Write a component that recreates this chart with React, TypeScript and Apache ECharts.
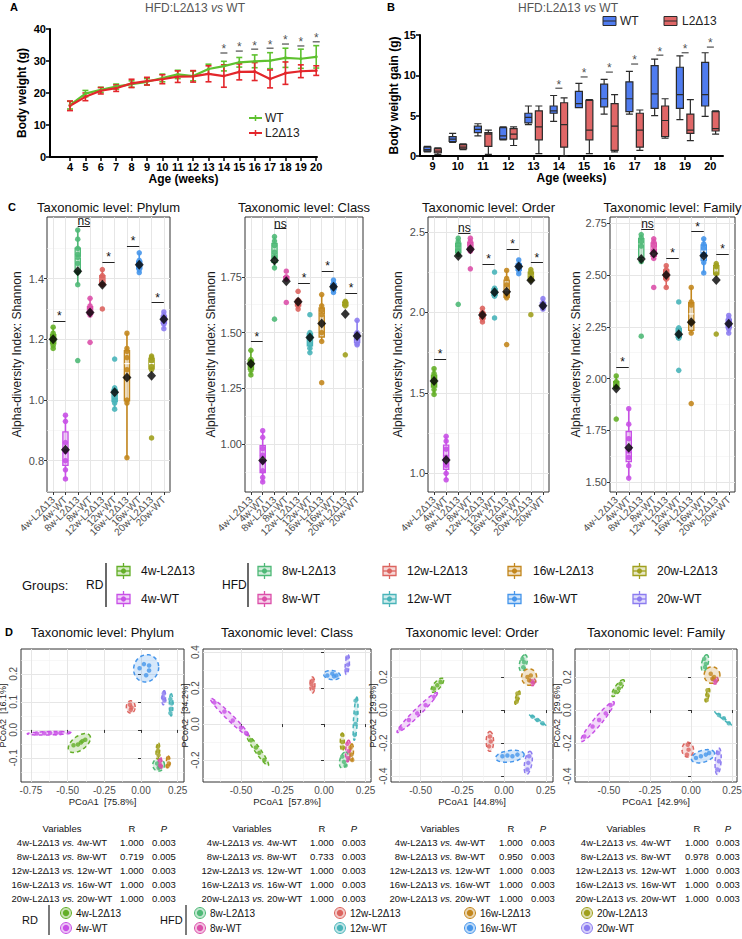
import React, { useEffect, useRef } from "react";
import * as echarts from "echarts";

// ---------------- Panel A: body weight ----------------
const ageWeeks = [4, 5, 6, 7, 8, 9, 10, 11, 12, 13, 14, 15, 16, 17, 18, 19, 20];
const wtBodyWeight = [16.2, 19.8, 21.0, 22.0, 22.8, 23.5, 24.7, 25.8, 25.3, 27.5, 28.4, 29.6, 29.9, 30.1, 31.0, 30.7, 31.3];
const wtBodyWeightErr = [1.2, 1.0, 0.8, 0.8, 1.0, 1.0, 1.2, 1.3, 1.5, 1.5, 1.5, 1.5, 2.0, 2.5, 3.0, 3.0, 3.5];
const l2BodyWeight = [16.0, 18.8, 20.7, 21.5, 23.0, 23.7, 24.3, 25.1, 25.2, 26.0, 25.3, 26.6, 26.7, 24.4, 26.2, 26.8, 27.0];
const l2BodyWeightErr = [1.5, 1.2, 1.0, 1.0, 1.3, 1.2, 1.4, 1.8, 1.8, 2.5, 3.5, 2.5, 2.8, 2.8, 3.5, 2.0, 1.5];
const sigWeeksA = [14, 15, 16, 17, 18, 19, 20];
const sigLevelA = [32.5, 33.1, 33.7, 34.0, 35.3, 34.7, 36.0];

// ---------------- Panel B: body weight gain ----------------
const gainWeeks = ["9", "10", "11", "12", "13", "14", "15", "16", "17", "18", "19", "20"];
const wtGain = [
  [0.5, 0.6, 0.8, 1.1, 1.2], [1.7, 1.8, 2.1, 2.4, 2.8], [2.5, 2.9, 3.3, 3.7, 4.0], [2.0, 2.1, 2.5, 3.5, 3.6],
  [3.9, 4.1, 4.8, 5.3, 6.2], [4.3, 5.3, 5.6, 6.2, 7.5], [6.0, 6.0, 6.5, 8.0, 9.0], [5.2, 6.1, 7.1, 8.9, 9.5],
  [5.2, 5.5, 7.1, 9.2, 10.5], [5.0, 5.9, 7.7, 11.2, 12.0], [4.5, 5.9, 7.6, 11.0, 12.4], [4.9, 6.2, 7.6, 11.6, 12.8],
];
const l2Gain = [
  [0.2, 0.4, 0.6, 0.9, 1.0], [0.8, 0.9, 1.1, 1.4, 1.5], [0.2, 1.2, 2.7, 2.9, 3.2], [1.3, 2.1, 2.7, 3.4, 3.6],
  [0.3, 2.0, 3.6, 5.6, 6.2], [0.0, 1.1, 3.9, 6.6, 7.2], [0.3, 2.0, 3.2, 6.9, 7.0], [0.5, 0.7, 3.7, 6.5, 7.6],
  [0.7, 1.1, 3.2, 5.3, 5.7], [2.2, 2.4, 4.4, 6.2, 7.1], [1.9, 2.8, 3.2, 5.2, 7.0], [2.7, 3.1, 3.4, 5.5, 5.6],
];
const sigWeeksB = ["14", "15", "16", "17", "18", "19", "20"];
const sigLevelB = [8.4, 9.8, 10.4, 11.4, 12.5, 12.8, 13.5];

// ---------------- Panel C: alpha diversity ----------------
const groupNames = ["4w-L2Δ13", "4w-WT", "8w-L2Δ13", "8w-WT", "12w-L2Δ13", "12w-WT", "16w-L2Δ13", "16w-WT", "20w-L2Δ13", "20w-WT"];
const groupColors = ["#64af28", "#c850e6", "#4fb977", "#dc50aa", "#dc645f", "#48b4b9", "#c3871e", "#4696eb", "#a0a01e", "#8c7cf0"];
const sigPairs = [[1, 2], [3, 4], [5, 6], [7, 8], [9, 10]];
const sigLabels = ["*", "ns", "*", "*", "*"];

const phylumShannon = [
  [1.24, 1.22, 1.21, 1.2, 1.19, 1.18, 1.17],
  [0.95, 0.93, 0.86, 0.83, 0.8, 0.77, 0.74],
  [1.56, 1.53, 1.5, 1.48, 1.47, 1.45, 1.42, 1.38, 1.13],
  [1.335, 1.31, 1.3, 1.29, 1.28, 1.19],
  [1.43, 1.41, 1.4, 1.38, 1.3],
  [1.135, 1.04, 1.03, 1.01, 1.0, 0.99, 0.97],
  [1.22, 1.17, 1.16, 1.14, 1.1, 1.0, 0.99, 0.81],
  [1.485, 1.46, 1.45, 1.44, 1.43, 1.42],
  [1.145, 1.14, 1.13, 1.11, 1.1, 0.875],
  [1.29, 1.28, 1.27, 1.26, 1.25, 1.235],
];
const phylumMean = [1.2, 0.836, 1.424, 1.288, 1.38, 1.026, 1.074, 1.446, 1.08, 1.266];
const phylumSigLevel = [1.26, 1.573, 1.455, 1.508, 1.321];

const classShannon = [
  [1.42, 1.38, 1.37, 1.35, 1.33, 1.31],
  [1.06, 1.03, 0.98, 0.95, 0.92, 0.88, 0.85, 0.83],
  [1.93, 1.91, 1.89, 1.86, 1.84, 1.79, 1.56],
  [1.775, 1.75, 1.745, 1.74, 1.635],
  [1.685, 1.645, 1.635, 1.62, 1.605],
  [1.58, 1.5, 1.49, 1.47, 1.45, 1.43, 1.41],
  [1.67, 1.62, 1.6, 1.58, 1.5, 1.46, 1.275],
  [1.735, 1.72, 1.71, 1.7, 1.69, 1.68],
  [1.64, 1.635, 1.63, 1.62, 1.4],
  [1.555, 1.5, 1.49, 1.47, 1.45, 1.445],
];
const classMean = [1.36, 0.926, 1.823, 1.73, 1.638, 1.478, 1.54, 1.705, 1.583, 1.484];
const classSigLevel = [1.459, 1.966, 1.723, 1.777, 1.678];

const orderShannon = [
  [1.65, 1.62, 1.6, 1.57, 1.55, 1.52, 1.49],
  [1.23, 1.2, 1.15, 1.1, 1.05, 1.0, 0.96],
  [2.46, 2.44, 2.42, 2.4, 2.38, 2.36, 2.05],
  [2.46, 2.44, 2.42, 2.4, 2.38, 2.27],
  [2.025, 2.0, 1.98, 1.96, 1.94],
  [2.25, 2.15, 2.13, 2.12, 2.1, 1.965],
  [2.26, 2.21, 2.17, 2.1, 2.09, 1.8],
  [2.325, 2.3, 2.28, 2.26, 2.24],
  [2.265, 2.25, 2.23, 2.2, 1.985],
  [2.085, 2.06, 2.04, 2.03, 2.02],
];
const orderMean = [1.573, 1.083, 2.35, 2.391, 1.983, 2.124, 2.128, 2.284, 2.199, 2.041];
const orderSigLevel = [1.708, 2.493, 2.3, 2.393, 2.308];

const familyShannon = [
  [2.013, 1.985, 1.975, 1.96, 1.805],
  [1.855, 1.78, 1.71, 1.65, 1.62, 1.58, 1.52],
  [2.695, 2.68, 2.66, 2.64, 2.565, 2.205],
  [2.675, 2.66, 2.64, 2.62, 2.58, 2.44],
  [2.545, 2.525, 2.5, 2.48, 2.44],
  [2.37, 2.245, 2.23, 2.21, 2.195, 2.04],
  [2.44, 2.37, 2.355, 2.27, 2.22, 1.88],
  [2.675, 2.65, 2.63, 2.6, 2.56, 2.51],
  [2.555, 2.545, 2.54, 2.505, 2.215],
  [2.305, 2.29, 2.275, 2.26, 2.24, 2.22],
];
const familyMean = [1.953, 1.667, 2.577, 2.604, 2.5, 2.214, 2.272, 2.593, 2.476, 2.265];
const familySigLevel = [2.055, 2.72, 2.58, 2.71, 2.6];

// ---------------- Panel D: PCoA (ellipse: centre, axis u, axis v) ----------------
const phylumEllipses = [
  [-0.42, -0.047, 0.075, 0.022, -0.01, 0.026], [-0.625, -0.012, 0.15, 0.002, 0, 0.006],
  [0.12, -0.125, 0.04, 0, 0, 0.022], [0.13, -0.12, 0.012, 0.008, -0.005, 0.022],
  [-0.07, 0.082, 0.03, 0, 0, 0.022], [0.205, 0.09, 0, 0.04, 0.012, 0],
  [0.185, -0.115, 0, 0.022, 0.012, 0], [0.035, 0.22, 0.085, 0.008, -0.008, 0.048],
  [0.115, -0.075, 0.004, 0.028, 0.012, 0], [0.155, 0.115, 0.003, 0.025, 0.012, 0],
];
const phylumPcoaPoints = [
  [[-0.46, -0.055], [-0.43, -0.052], [-0.41, -0.045], [-0.4, -0.04], [-0.38, -0.035]],
  [[-0.71, -0.013], [-0.66, -0.012], [-0.62, -0.011], [-0.58, -0.012], [-0.55, -0.011]],
  [[0.11, -0.12], [0.13, -0.13], [0.12, -0.135]],
  [[0.13, -0.11], [0.13, -0.125], [0.135, -0.13]],
  [[-0.075, 0.09], [-0.065, 0.08], [-0.07, 0.072]],
  [[0.2, 0.11], [0.21, 0.095], [0.205, 0.075], [0.2, 0.06]],
  [[0.185, -0.1], [0.19, -0.12], [0.18, -0.13]],
  [[0.02, 0.235], [0.055, 0.23], [0.055, 0.212], [0.035, 0.195], [-0.01, 0.22]],
  [[0.115, -0.06], [0.115, -0.075], [0.12, -0.09]],
  [[0.155, 0.13], [0.15, 0.115], [0.16, 0.105]],
];
const classEllipses = [
  [-0.4, -0.145, 0.065, -0.085, 0.013, 0.01], [-0.57, 0.04, 0.115, -0.103, 0.012, 0.014],
  [0.12, -0.2, 0.01, 0.045, 0.025, 0], [0.145, -0.15, 0.003, 0.06, 0.015, 0],
  [-0.07, 0.217, 0, 0.045, 0.015, 0], [0.19, 0.03, 0.008, 0.12, 0.012, 0],
  [0.165, -0.16, 0.003, 0.05, 0.012, 0], [0.048, 0.272, 0.05, -0.005, 0.002, 0.025],
  [0.11, -0.1, 0, 0.05, 0.012, 0], [0.14, 0.33, 0.005, 0.055, 0.012, 0],
];
const classPcoaPoints = [
  [[-0.44, -0.09], [-0.41, -0.13], [-0.39, -0.16], [-0.36, -0.2]],
  [[-0.66, 0.12], [-0.6, 0.07], [-0.55, 0.02], [-0.5, -0.02], [-0.47, -0.05]],
  [[0.11, -0.18], [0.12, -0.21], [0.13, -0.23]],
  [[0.14, -0.11], [0.15, -0.15], [0.145, -0.19]],
  [[-0.07, 0.24], [-0.075, 0.22], [-0.065, 0.2]],
  [[0.19, 0.13], [0.195, 0.06], [0.19, 0.0], [0.185, -0.06]],
  [[0.16, -0.13], [0.165, -0.17], [0.17, -0.2]],
  [[0.02, 0.27], [0.05, 0.28], [0.06, 0.265], [0.075, 0.27]],
  [[0.11, -0.06], [0.11, -0.1], [0.115, -0.13]],
  [[0.14, 0.37], [0.145, 0.33], [0.135, 0.3]],
];
const orderEllipses = [
  [-0.4, 0.15, 0.035, 0.04, -0.015, 0.015], [-0.52, -0.015, 0.12, 0.12, 0.015, -0.015],
  [0.115, 0.285, 0.01, 0.05, 0.022, 0], [0.17, 0.17, 0.02, 0, 0, 0.022],
  [-0.085, -0.19, 0, 0.06, 0.022, 0], [0.2, -0.06, 0.05, -0.035, 0.003, 0.005],
  [0.15, 0.2, 0.045, 0, 0, 0.05], [0.035, -0.28, 0.085, 0.01, 0, 0.035],
  [0.08, 0.075, 0.012, 0.04, 0.01, -0.003], [0.145, -0.32, 0.01, 0.07, 0.022, 0],
];
const orderPcoaPoints = [
  [[-0.42, 0.13], [-0.4, 0.15], [-0.38, 0.17]],
  [[-0.62, -0.11], [-0.57, -0.06], [-0.52, -0.02], [-0.47, 0.03], [-0.42, 0.08]],
  [[0.11, 0.31], [0.12, 0.29], [0.115, 0.26]],
  [[0.165, 0.175], [0.175, 0.165]],
  [[-0.085, -0.16], [-0.08, -0.19], [-0.09, -0.22]],
  [[0.17, -0.04], [0.2, -0.06], [0.23, -0.08]],
  [[0.14, 0.2], [0.16, 0.21], [0.15, 0.18]],
  [[-0.01, -0.28], [0.02, -0.275], [0.05, -0.28], [0.08, -0.27]],
  [[0.08, 0.1], [0.08, 0.07], [0.075, 0.05]],
  [[0.15, -0.28], [0.145, -0.32], [0.14, -0.36]],
];
const familyEllipses = [
  [-0.445, 0.133, 0.035, 0.05, -0.016, 0.01], [-0.57, -0.07, 0.1, 0.12, 0.02, -0.015],
  [0.085, 0.285, 0.01, 0.05, 0.02, 0], [0.146, 0.18, 0.02, 0, 0, 0.022],
  [-0.02, -0.24, 0.035, 0, 0, 0.045], [0.195, -0.05, 0.05, -0.04, 0.003, 0.004],
  [0.128, 0.212, 0.048, 0, 0, 0.05], [0.073, -0.28, 0.07, 0.02, -0.008, 0.035],
  [0.1, 0.09, 0.01, 0.04, 0.01, 0], [0.165, -0.31, 0.005, 0.08, 0.018, 0],
];
const familyPcoaPoints = [
  [[-0.46, 0.11], [-0.44, 0.13], [-0.43, 0.16]],
  [[-0.65, -0.16], [-0.6, -0.1], [-0.56, -0.06], [-0.52, -0.02], [-0.49, 0.03]],
  [[0.08, 0.31], [0.09, 0.28], [0.085, 0.26]],
  [[0.14, 0.185], [0.15, 0.175]],
  [[-0.02, -0.21], [-0.015, -0.24], [-0.025, -0.27]],
  [[0.17, -0.03], [0.2, -0.05], [0.23, -0.08]],
  [[0.12, 0.22], [0.14, 0.2], [0.13, 0.19]],
  [[0.03, -0.29], [0.06, -0.28], [0.09, -0.27], [0.11, -0.26]],
  [[0.1, 0.12], [0.1, 0.09], [0.095, 0.06]],
  [[0.165, -0.26], [0.17, -0.31], [0.16, -0.36]],
];

// ---------------- ANOSIM tables ----------------
const anosimComparisons = [["4w-L2Δ13", "4w-WT"], ["8w-L2Δ13", "8w-WT"], ["12w-L2Δ13", "12w-WT"], ["16w-L2Δ13", "16w-WT"], ["20w-L2Δ13", "20w-WT"]];
const phylumAnosimR = [1.0, 0.719, 1.0, 1.0, 1.0];
const phylumAnosimP = [0.003, 0.005, 0.003, 0.003, 0.003];
const classAnosimR = [1.0, 0.733, 1.0, 1.0, 1.0];
const classAnosimP = [0.003, 0.003, 0.003, 0.003, 0.003];
const orderAnosimR = [1.0, 0.95, 1.0, 1.0, 1.0];
const orderAnosimP = [0.003, 0.003, 0.003, 0.003, 0.003];
const familyAnosimR = [1.0, 0.978, 1.0, 1.0, 1.0];
const familyAnosimP = [0.003, 0.003, 0.003, 0.003, 0.003];

// ---------------- helpers ----------------
const FONT = "'Liberation Sans', Arial, Helvetica, sans-serif";
const NARROW = "'Liberation Sans Narrow', 'Arial Narrow', 'Liberation Sans', Arial, sans-serif";

function rgba(hex: string, a: number) {
  const n = parseInt(hex.slice(1), 16);
  return `rgba(${(n >> 16) & 255},${(n >> 8) & 255},${n & 255},${a})`;
}

function boxStats(vals: number[]) {
  const s = [...vals].sort((a, b) => a - b);
  const q = (p: number) => {
    const h = (s.length - 1) * p;
    const lo = Math.floor(h);
    const hi = Math.min(lo + 1, s.length - 1);
    return s[lo] + (h - lo) * (s[hi] - s[lo]);
  };
  const q1 = q(0.25), med = q(0.5), q3 = q(0.75), iqr = q3 - q1;
  const lo = s.find((v) => v >= q1 - 1.5 * iqr) as number;
  const hi = [...s].reverse().find((v) => v <= q3 + 1.5 * iqr) as number;
  return [lo, q1, med, q3, hi];
}

function T(x: number, y: number, text: string, o: any = {}) {
  const align = o.align || "left";
  return {
    type: "text",
    x,
    y,
    silent: true,
    z: 100,
    style: {
      text,
      fill: o.color || "#1a1a1a",
      fontSize: o.size || 12,
      fontFamily: o.family || FONT,
      fontWeight: o.weight || "normal",
      fontStyle: o.fstyle || "normal",
      align,
      textAlign: align,
      verticalAlign: "middle",
      textVerticalAlign: "middle",
      rich: o.rich,
    },
  };
}
function L(x1: number, y1: number, x2: number, y2: number, color: string, w = 1) {
  return { type: "line", silent: true, z: 100, shape: { x1, y1, x2, y2 }, style: { stroke: color, lineWidth: w } };
}

function boxKey(x: number, y: number, c: string) {
  return [
    L(x + 6.5, y - 8, x + 6.5, y - 4.5, c, 1.3),
    L(x + 6.5, y + 4.5, x + 6.5, y + 8, c, 1.3),
    { type: "rect", silent: true, z: 100, shape: { x, y: y - 4.5, width: 13, height: 9 }, style: { fill: rgba(c, 0.25), stroke: c, lineWidth: 1.3 } },
    L(x, y, x + 13, y, c, 1.3),
    { type: "circle", silent: true, z: 101, shape: { cx: x + 6.5, cy: y, r: 2.6 }, style: { fill: c } },
  ];
}
function ellKey(x: number, y: number, c: string) {
  return [
    { type: "circle", silent: true, z: 100, shape: { cx: x, cy: y, r: 5.5 }, style: { fill: rgba(c, 0.35), stroke: c, lineWidth: 1 } },
    { type: "circle", silent: true, z: 101, shape: { cx: x, cy: y, r: 3.2 }, style: { fill: c } },
  ];
}

function buildOption() {
  const grid: any[] = [];
  const xAxis: any[] = [];
  const yAxis: any[] = [];
  const series: any[] = [];
  const els: any[] = [];
  const addX = (o: any) => (xAxis.push(o), xAxis.length - 1);
  const addY = (o: any) => (yAxis.push(o), yAxis.length - 1);

  // ===== Panel A =====
  const prismLine = { show: true, onZero: false, lineStyle: { color: "#000", width: 2 } };
  const prismTick = { show: true, length: 4, lineStyle: { color: "#000", width: 1.5 } };
  const prismLabel = { color: "#000", fontWeight: "bold", fontSize: 11, fontFamily: FONT, margin: 4, hideOverlap: false };
  const prismName = { fontWeight: "bold", fontSize: 12, color: "#000", fontFamily: FONT };
  grid.push({ left: 50, top: 29, width: 267, height: 128, show: false, outerBoundsMode: "none" });
  const axA = addX({
    gridIndex: 0, type: "value", min: 2.7, max: 20.05,
    axisLine: prismLine, axisTick: { ...prismTick, customValues: ageWeeks },
    axisLabel: { ...prismLabel, customValues: ageWeeks }, splitLine: { show: false },
    name: "Age (weeks)", nameLocation: "middle", nameGap: 16, nameTextStyle: prismName,
  });
  const ayA = addY({
    gridIndex: 0, type: "value", min: 0, max: 40, interval: 10,
    axisLine: prismLine, axisTick: prismTick, axisLabel: prismLabel, splitLine: { show: false },
    name: "Body weight (g)", nameLocation: "middle", nameGap: 22, nameTextStyle: prismName,
  });
  const wtGreen = "#5ec12f", l2Red = "#e3262b";
  const errSeries = (vals: number[], errs: number[], color: string) => ({
    type: "custom", xAxisIndex: axA, yAxisIndex: ayA, silent: true, z: 3,
    data: ageWeeks.map((w, i) => [w, vals[i], errs[i]]),
    encode: { x: 0, y: 1 },
    renderItem: (params: any, api: any) => {
      const x = api.value(0), m = api.value(1), s = api.value(2);
      const t = api.coord([x, m + s]), b = api.coord([x, m - s]);
      const st = { stroke: color, lineWidth: 1.6 };
      return {
        type: "group",
        children: [
          { type: "line", shape: { x1: t[0], y1: t[1], x2: b[0], y2: b[1] }, style: st },
          { type: "line", shape: { x1: t[0] - 3, y1: t[1], x2: t[0] + 3, y2: t[1] }, style: st },
          { type: "line", shape: { x1: b[0] - 3, y1: b[1], x2: b[0] + 3, y2: b[1] }, style: st },
        ],
      };
    },
  });
  series.push(errSeries(wtBodyWeight, wtBodyWeightErr, wtGreen));
  series.push({
    type: "line", xAxisIndex: axA, yAxisIndex: ayA, data: ageWeeks.map((w, i) => [w, wtBodyWeight[i]]),
    symbol: "circle", symbolSize: 3, itemStyle: { color: wtGreen }, lineStyle: { color: wtGreen, width: 2.2 }, z: 4,
  });
  series.push(errSeries(l2BodyWeight, l2BodyWeightErr, l2Red));
  series.push({
    type: "line", xAxisIndex: axA, yAxisIndex: ayA, data: ageWeeks.map((w, i) => [w, l2BodyWeight[i]]),
    symbol: "circle", symbolSize: 3, itemStyle: { color: l2Red }, lineStyle: { color: l2Red, width: 2.2 }, z: 4,
  });
  series.push({
    type: "scatter", xAxisIndex: axA, yAxisIndex: ayA, silent: true, z: 6,
    data: sigWeeksA.map((w, i) => [w, sigLevelA[i]]), symbol: "rect", symbolSize: [7, 1.3],
    itemStyle: { color: "#333" },
    label: { show: true, formatter: "*", position: "top", distance: -3, fontSize: 12, color: "#222", fontFamily: FONT },
  });
  els.push(T(10, 7, "A", { weight: "bold", size: 11, color: "#000" }));
  els.push(T(195, 8, "HFD:L2Δ13 {i|vs} WT", { align: "center", color: "#555", size: 12, rich: { i: { fontStyle: "italic", fontSize: 12, fontFamily: FONT, fill: "#555", color: "#555" } } }));
  els.push(L(249, 118, 262, 118, wtGreen, 2), L(255.5, 115, 255.5, 121, wtGreen, 1.5));
  els.push(T(265, 118, "WT", { size: 12, color: "#222" }));
  els.push(L(249, 133, 262, 133, l2Red, 2), L(255.5, 130, 255.5, 136, l2Red, 1.5));
  els.push(T(265, 133, "L2Δ13", { size: 12, color: "#222" }));

  // ===== Panel B =====
  grid.push({ left: 420, top: 35, width: 303, height: 121, show: false, outerBoundsMode: "none" });
  const axB = addX({
    gridIndex: 1, type: "category", data: gainWeeks, axisLine: prismLine,
    axisTick: { ...prismTick, alignWithLabel: true }, axisLabel: { ...prismLabel, interval: 0 }, splitLine: { show: false },
    name: "Age (weeks)", nameLocation: "middle", nameGap: 16, nameTextStyle: prismName,
  });
  const ayB = addY({
    gridIndex: 1, type: "value", min: 0, max: 15, interval: 5,
    axisLine: prismLine, axisTick: prismTick, axisLabel: prismLabel, splitLine: { show: false },
    name: "Body weight gain (g)", nameLocation: "middle", nameGap: 19, nameTextStyle: prismName,
  });
  const wtBlue = "#4f7cf0", l2Pink = "#e06767";
  series.push({
    type: "boxplot", name: "WT", xAxisIndex: axB, yAxisIndex: ayB, data: wtGain, boxWidth: [7, 7],
    itemStyle: { color: wtBlue, borderColor: "#2b2b2b", borderWidth: 1.2 },
  });
  series.push({
    type: "boxplot", name: "L2Δ13", xAxisIndex: axB, yAxisIndex: ayB, data: l2Gain, boxWidth: [7, 7],
    itemStyle: { color: l2Pink, borderColor: "#2b2b2b", borderWidth: 1.2 },
  });
  series.push({
    type: "scatter", xAxisIndex: axB, yAxisIndex: ayB, silent: true, z: 6,
    data: sigWeeksB.map((w, i) => [w, sigLevelB[i]]), symbol: "rect", symbolSize: [7, 1.3],
    itemStyle: { color: "#333" },
    label: { show: true, formatter: "*", position: "top", distance: -3, fontSize: 12, color: "#222", fontFamily: FONT },
  });
  els.push(T(387, 7, "B", { weight: "bold", size: 11, color: "#000" }));
  els.push(T(568, 8, "HFD:L2Δ13 {i|vs} WT", { align: "center", color: "#555", size: 12, rich: { i: { fontStyle: "italic", fontSize: 12, fontFamily: FONT, fill: "#555", color: "#555" } } }));
  els.push({ type: "rect", silent: true, z: 100, shape: { x: 603, y: 16.5, width: 13, height: 9 }, style: { fill: wtBlue, stroke: "#2b2b2b", lineWidth: 1 } });
  els.push(L(603, 21, 616, 21, "#2b2b2b", 1));
  els.push(T(620, 21, "WT", { size: 12, color: "#222" }));
  els.push({ type: "rect", silent: true, z: 100, shape: { x: 664, y: 16.5, width: 13, height: 9 }, style: { fill: l2Pink, stroke: "#2b2b2b", lineWidth: 1 } });
  els.push(L(664, 21, 677, 21, "#2b2b2b", 1));
  els.push(T(682, 21, "L2Δ13", { size: 12, color: "#222" }));

  // ===== Panel C =====
  const groupPos = groupNames.map((_, i) => i + 1);
  const cPanels = [
    { title: "Phylum", left: 47, width: 123, min: 0.697, max: 1.603, major: [0.8, 1.0, 1.2, 1.4], minor: [0.7, 0.9, 1.1, 1.3, 1.5], dec: 1, vals: phylumShannon, means: phylumMean, sig: phylumSigLevel },
    { title: "Class", left: 245, width: 118, min: 0.785, max: 2.018, major: [1.0, 1.25, 1.5, 1.75], minor: [0.875, 1.125, 1.375, 1.625, 1.875], dec: 2, vals: classShannon, means: classMean, sig: classSigLevel },
    { title: "Order", left: 428, width: 121, min: 0.884, max: 2.592, major: [1.0, 1.5, 2.0, 2.5], minor: [1.25, 1.75, 2.25], dec: 1, vals: orderShannon, means: orderMean, sig: orderSigLevel },
    { title: "Family", left: 610, width: 125, min: 1.453, max: 2.78, major: [1.5, 1.75, 2.0, 2.25, 2.5, 2.75], minor: [1.625, 1.875, 2.125, 2.375, 2.625], dec: 2, vals: familyShannon, means: familyMean, sig: familySigLevel },
  ];
  const gridLine = { show: true, lineStyle: { color: "#e6e6e6", width: 1 } };
  const minorLine = { show: true, lineStyle: { color: "#f1f1f1", width: 0.6 } };
  cPanels.forEach((c) => {
    const gi = grid.length;
    grid.push({ left: c.left, top: 217, width: c.width, height: 275, show: true, borderColor: "#333", borderWidth: 1, backgroundColor: "#fff", outerBoundsMode: "none" });
    const xi = addX({
      gridIndex: gi, type: "value", min: 0.5, max: 10.5,
      axisLine: { show: false }, axisTick: { show: true, customValues: groupPos, length: 3, lineStyle: { color: "#333" } },
      axisLabel: { show: false, customValues: groupPos },
      splitLine: gridLine,
    });
    addX({
      gridIndex: gi, type: "category", data: groupNames, boundaryGap: true, position: "bottom",
      axisLine: { show: false }, axisTick: { show: false }, splitLine: { show: false },
      axisLabel: { interval: 0, rotate: 45, fontSize: 10, color: "#4d4d4d", margin: 6, hideOverlap: false },
    });
    const yi = addY({
      gridIndex: gi, type: "value", min: c.min, max: c.max,
      axisLine: { show: false }, axisTick: { show: true, customValues: c.major, length: 3, lineStyle: { color: "#333" } },
      axisLabel: { customValues: c.major, formatter: (v: number) => v.toFixed(c.dec), fontSize: 11, color: "#4d4d4d", margin: 3, hideOverlap: false },
      splitLine: gridLine,
      name: "Alpha-diversity Index: Shannon", nameLocation: "middle", nameGap: 24, nameTextStyle: { fontSize: 12, color: "#1a1a1a" },
    });
    addY({
      gridIndex: gi, type: "value", min: c.min, max: c.max, position: "left",
      axisLine: { show: false }, axisTick: { show: false, customValues: c.minor }, axisLabel: { show: false, customValues: c.minor },
      splitLine: minorLine,
    });
    series.push({
      type: "custom", xAxisIndex: xi, yAxisIndex: yi, silent: true, z: 2, clip: true,
      data: c.vals.map((v, g) => [g + 1, ...boxStats(v), g]),
      encode: { x: 0, y: [1, 2, 3, 4, 5] },
      renderItem: (params: any, api: any) => {
        const x = api.value(0);
        const col = groupColors[api.value(6)];
        const pLo = api.coord([x, api.value(1)]), pQ1 = api.coord([x, api.value(2)]), pMed = api.coord([x, api.value(3)]);
        const pQ3 = api.coord([x, api.value(4)]), pHi = api.coord([x, api.value(5)]);
        const hw = 2.6;
        const st = { stroke: col, lineWidth: 1.6 };
        return {
          type: "group",
          children: [
            { type: "line", shape: { x1: pLo[0], y1: pLo[1], x2: pQ1[0], y2: pQ1[1] }, style: st },
            { type: "line", shape: { x1: pQ3[0], y1: pQ3[1], x2: pHi[0], y2: pHi[1] }, style: st },
            { type: "rect", shape: { x: pQ3[0] - hw, y: pQ3[1], width: 2 * hw, height: Math.max(0.5, pQ1[1] - pQ3[1]) }, style: { fill: rgba(col, 0.3), stroke: col, lineWidth: 1.3 } },
            { type: "line", shape: { x1: pMed[0] - hw, y1: pMed[1], x2: pMed[0] + hw, y2: pMed[1] }, style: { stroke: "#fff", lineWidth: 1.2 } },
          ],
        };
      },
    });
    const pts: any[] = [];
    c.vals.forEach((vs, g) => vs.forEach((v) => pts.push({ value: [g + 1, v], itemStyle: { color: groupColors[g] } })));
    series.push({ type: "scatter", xAxisIndex: xi, yAxisIndex: yi, data: pts, symbolSize: 5.5, itemStyle: { opacity: 0.9 }, z: 3, silent: true });
    series.push({
      type: "scatter", xAxisIndex: xi, yAxisIndex: yi, silent: true, z: 4,
      data: c.means.map((m, g) => [g + 1, m]), symbol: "diamond", symbolSize: [9, 10], itemStyle: { color: "#000" },
      markLine: {
        silent: true, symbol: ["none", "none"], animation: false,
        lineStyle: { color: "#222", width: 1, type: "solid" },
        label: { show: true, position: "insideMiddleTop", formatter: "{b}", distance: -1, fontSize: 12, color: "#111", fontFamily: FONT },
        emphasis: { disabled: true },
        data: sigPairs.map((p, i) => [{ name: sigLabels[i], coord: [p[0], c.sig[i]] }, { coord: [p[1], c.sig[i]] }]),
      },
    });
    els.push(T(c.left + c.width / 2, 207, "Taxonomic level: " + c.title, { align: "center", size: 13, color: "#111" }));
  });
  els.push(T(8, 207, "C", { weight: "bold", size: 11, color: "#000" }));

  // Groups legend
  els.push(T(22, 585, "Groups:", { size: 13, color: "#111" }));
  els.push(T(86, 585, "RD", { size: 12, color: "#111" }));
  els.push(L(106, 563, 106, 607, "#444", 1.6));
  els.push(T(222, 585, "HFD", { size: 12, color: "#111" }));
  els.push(L(248, 563, 248, 607, "#444", 1.6));
  const legCols = [[117, 141], [258, 282], [383, 407], [508, 533], [633, 657]];
  groupNames.forEach((n, g) => {
    const col = legCols[Math.floor(g / 2)];
    const y = g % 2 === 0 ? 571 : 599;
    els.push(...boxKey(col[0], y, groupColors[g]));
    els.push(T(col[1], y, n, { size: 12, color: "#111" }));
  });

  // ===== Panel D =====
  const xMinorD = [-0.625, -0.375, -0.125, 0.125];
  const dPanels = [
    { title: "Phylum", left: 21, width: 163, xMin: -0.818, xMax: 0.293, yMin: -0.186, yMax: 0.289, xMajor: [-0.75, -0.5, -0.25, 0, 0.25], yMajor: [-0.1, 0, 0.1, 0.2], yMinor: [-0.15, -0.05, 0.05, 0.15, 0.25], pc1: "75.8%", pc2: "16.1%", ell: phylumEllipses, pts: phylumPcoaPoints },
    { title: "Class", left: 203, width: 168, xMin: -0.729, xMax: 0.283, yMin: -0.322, yMax: 0.417, xMajor: [-0.5, -0.25, 0, 0.25], yMajor: [-0.2, 0, 0.2, 0.4], yMinor: [-0.3, -0.1, 0.1, 0.3], pc1: "57.8%", pc2: "34.2%", ell: classEllipses, pts: classPcoaPoints },
    { title: "Order", left: 391, width: 162, xMin: -0.677, xMax: 0.293, yMin: -0.436, yMax: 0.37, xMajor: [-0.5, -0.25, 0, 0.25], yMajor: [-0.4, -0.2, 0, 0.2], yMinor: [-0.3, -0.1, 0.1, 0.3], pc1: "44.8%", pc2: "29.8%", ell: orderEllipses, pts: orderPcoaPoints },
    { title: "Family", left: 575, width: 162, xMin: -0.707, xMax: 0.28, yMin: -0.436, yMax: 0.37, xMajor: [-0.5, -0.25, 0, 0.25], yMajor: [-0.4, -0.2, 0, 0.2], yMinor: [-0.3, -0.1, 0.1, 0.3], pc1: "42.9%", pc2: "29.6%", ell: familyEllipses, pts: familyPcoaPoints },
  ];
  dPanels.forEach((d) => {
    const gi = grid.length;
    grid.push({ left: d.left, top: 649, width: d.width, height: 133, show: true, borderColor: "#333", borderWidth: 1, backgroundColor: "#fff", outerBoundsMode: "none" });
    const xi = addX({
      gridIndex: gi, type: "value", min: d.xMin, max: d.xMax,
      axisLine: { show: false }, axisTick: { show: true, customValues: d.xMajor, length: 3, lineStyle: { color: "#333" } },
      axisLabel: { customValues: d.xMajor, formatter: (v: number) => v.toFixed(2), fontSize: 10, color: "#4d4d4d", margin: 3, hideOverlap: false },
      splitLine: gridLine,
      name: "PCoA1  [" + d.pc1 + "]", nameLocation: "middle", nameGap: 14, nameTextStyle: { fontSize: 9.5, color: "#1a1a1a" },
    });
    addX({
      gridIndex: gi, type: "value", min: d.xMin, max: d.xMax, position: "bottom",
      axisLine: { show: false }, axisTick: { show: false, customValues: xMinorD }, axisLabel: { show: false, customValues: xMinorD }, splitLine: minorLine,
    });
    const yi = addY({
      gridIndex: gi, type: "value", min: d.yMin, max: d.yMax,
      axisLine: { show: false }, axisTick: { show: true, customValues: d.yMajor, length: 3, lineStyle: { color: "#333" } },
      axisLabel: { customValues: d.yMajor, formatter: (v: number) => v.toFixed(1), rotate: 90, fontSize: 10, color: "#4d4d4d", margin: 3, hideOverlap: false },
      splitLine: gridLine,
      name: "PCoA2  [" + d.pc2 + "]", nameLocation: "middle", nameGap: 8, nameTextStyle: { fontSize: 9, color: "#1a1a1a" },
    });
    addY({
      gridIndex: gi, type: "value", min: d.yMin, max: d.yMax, position: "left",
      axisLine: { show: false }, axisTick: { show: false, customValues: d.yMinor }, axisLabel: { show: false, customValues: d.yMinor }, splitLine: minorLine,
    });
    series.push({
      type: "custom", xAxisIndex: xi, yAxisIndex: yi, silent: true, z: 2, clip: true,
      data: d.ell.map((e, g) => [...e, g]),
      encode: { x: 0, y: 1 },
      renderItem: (params: any, api: any) => {
        const cx = api.value(0), cy = api.value(1), ux = api.value(2), uy = api.value(3), vx = api.value(4), vy = api.value(5);
        const col = groupColors[api.value(6)];
        const points: number[][] = [];
        for (let k = 0; k < 60; k++) {
          const t = (k / 60) * Math.PI * 2;
          points.push(api.coord([cx + Math.cos(t) * ux + Math.sin(t) * vx, cy + Math.cos(t) * uy + Math.sin(t) * vy]));
        }
        return { type: "polygon", shape: { points }, style: { fill: rgba(col, 0.22), stroke: col, lineWidth: 1.5, lineDash: [4, 3] } };
      },
    });
    const pts: any[] = [];
    d.pts.forEach((gp, g) => gp.forEach((p) => pts.push({ value: p, itemStyle: { color: groupColors[g] } })));
    series.push({ type: "scatter", xAxisIndex: xi, yAxisIndex: yi, data: pts, symbolSize: 4.5, z: 3, silent: true });
    els.push(T(d.left + d.width / 2, 632, "Taxonomic level: " + d.title, { align: "center", size: 13, color: "#111" }));
  });
  els.push(T(5, 632, "D", { weight: "bold", size: 11, color: "#000" }));

  // ===== ANOSIM tables =====
  const tables = [
    { vc: 62, rx: 132, px: 164, r: phylumAnosimR, p: phylumAnosimP },
    { vc: 252, rx: 322, px: 354, r: classAnosimR, p: classAnosimP },
    { vc: 440, rx: 511, px: 543, r: orderAnosimR, p: orderAnosimP },
    { vc: 626, rx: 697, px: 728, r: familyAnosimR, p: familyAnosimP },
  ];
  const tSize = 9.5;
  tables.forEach((t) => {
    els.push(T(t.vc, 828, "Variables", { align: "center", size: tSize, family: NARROW, color: "#111" }));
    els.push(T(t.rx, 828, "R", { align: "center", size: tSize, family: NARROW, color: "#111" }));
    els.push(T(t.px, 828, "P", { align: "center", size: tSize, family: NARROW, fstyle: "italic", color: "#111" }));
    anosimComparisons.forEach((cmp, i) => {
      const y = 842 + i * 14;
      els.push(T(t.vc, y, cmp[0] + " {i|vs.} " + cmp[1], { align: "center", size: tSize, family: NARROW, color: "#111", rich: { i: { fontStyle: "italic", fontSize: tSize, fontFamily: NARROW, fill: "#111", color: "#111" } } }));
      els.push(T(t.rx, y, t.r[i].toFixed(3), { align: "center", size: tSize, family: NARROW, color: "#111" }));
      els.push(T(t.px, y, t.p[i].toFixed(3), { align: "center", size: tSize, family: NARROW, color: "#111" }));
    });
  });

  // ===== bottom legend (PCoA) =====
  els.push(T(22, 920, "RD", { size: 11, color: "#111" }));
  els.push(L(49, 905, 49, 935, "#444", 1.4));
  els.push(T(160, 920, "HFD", { size: 11, color: "#111" }));
  els.push(L(186, 905, 186, 935, "#444", 1.4));
  const dLegCols = [[66, 76], [200, 210], [340, 350], [470, 480], [587, 597]];
  groupNames.forEach((n, g) => {
    const col = dLegCols[Math.floor(g / 2)];
    const y = g % 2 === 0 ? 913 : 928;
    els.push(...ellKey(col[0], y, groupColors[g]));
    els.push(T(col[1], y, n, { size: 10, color: "#111" }));
  });

  return {
    animation: false,
    backgroundColor: "#fff",
    textStyle: { fontFamily: FONT },
    grid,
    xAxis,
    yAxis,
    series,
    graphic: { elements: els },
  };
}

export default function App() {
  const ref = useRef<HTMLDivElement>(null);
  useEffect(() => {
    const chart = echarts.init(ref.current as HTMLDivElement, null, { renderer: "svg" });
    chart.setOption(buildOption() as any);
    return () => chart.dispose();
  }, []);
  return <div ref={ref} style={{ position: "absolute", left: 0, top: 0, width: 742, height: 939, background: "#fff" }} />;
}
